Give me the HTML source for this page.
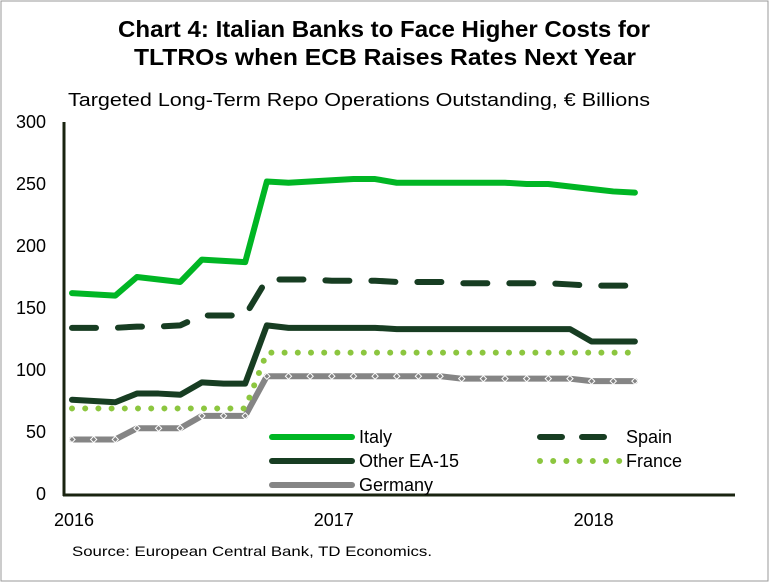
<!DOCTYPE html>
<html><head><meta charset="utf-8"><style>
body{margin:0;background:#fff;font-family:"Liberation Sans",Arial,sans-serif}
svg text{font-family:"Liberation Sans",Arial,sans-serif}
</style></head><body>
<svg id="c" width="769" height="582" xmlns="http://www.w3.org/2000/svg">
<rect x="1" y="1" width="767" height="580" fill="#fff" stroke="#999" stroke-width="1"/>
<text x="118" y="37" font-size="23" font-weight="bold" textLength="532" lengthAdjust="spacingAndGlyphs">Chart 4: Italian Banks to Face Higher Costs for</text>
<text x="134" y="65" font-size="23" font-weight="bold" textLength="502" lengthAdjust="spacingAndGlyphs">TLTROs when ECB Raises Rates Next Year</text>
<text x="68" y="106" font-size="18" textLength="582" lengthAdjust="spacingAndGlyphs">Targeted Long-Term Repo Operations Outstanding, € Billions</text>
<text x="72" y="556" font-size="14" textLength="360" lengthAdjust="spacingAndGlyphs">Source: European Central Bank, TD Economics.</text>
<g id="axes"></g><g id="series"></g><g id="legend"></g>
</svg>
<script>
const yTicks=[0,50,100,150,200,250,300];
const xTickLabels=["2016","2017","2018"];
const xTickIdx=[0,12,24];
const italy=[162,161,160,175,173,171,189,188,187,252,251,252,253,254,254,251,251,251,251,251,251,250,250,248,246,244,243];
const spain=[134,134,134,135,135,136,144,144,144,173,173,173,172,172,172,171,171,171,170,170,170,170,170,169,168,168,168];
const otherEA=[76,75,74,81,81,80,90,89,89,136,134,134,134,134,134,133,133,133,133,133,133,133,133,133,123,123,123];
const france=[69,69,69,69,69,69,69,69,69,114,114,114,114,114,114,114,114,114,114,114,114,114,114,114,114,114,114];
const germany=[44,44,44,53,53,53,63,63,63,95,95,95,95,95,95,95,95,95,93,93,93,93,93,93,91,91,91];
const NS="http://www.w3.org/2000/svg";
const X=i=>72+i*21.65;
const Y=v=>494-v*1.24;
function mk(t,a,p){const e=document.createElementNS(NS,t);for(const k in a)e.setAttribute(k,a[k]);p.appendChild(e);return e;}
const ax=document.getElementById('axes');
let yl=mk('line',{x1:64,y1:Y(300),x2:64,y2:496,stroke:'#1a2410','stroke-width':3},ax);


let xl=mk('line',{x1:63,y1:495,x2:735,y2:495,stroke:'#1a2410','stroke-width':3},ax);


yTicks.forEach(v=>{const t=mk('text',{x:46,y:Y(v)+6,'text-anchor':'end','font-size':18},ax);t.textContent=v;

});
xTickLabels.forEach((l,k)=>{const t=mk('text',{x:X(xTickIdx[k])+2,y:526,'text-anchor':'middle','font-size':18},ax);t.textContent=l;

});
const sg=document.getElementById('series');
function pts(a){return a.map((v,i)=>X(i)+','+Y(v)).join(' ');}
const styles={
italy:{stroke:'#00b624',w:6},
spain:{stroke:'#173d22',w:6,dash:'24,22'},
other:{stroke:'#173d22',w:6},
france:{stroke:'#8cc63f',w:6,dash:'0,13.2'},
germany:{stroke:'#858585',w:6}};
function line(a,s,name){const e=mk('polyline',{points:pts(a),fill:'none',stroke:s.stroke,'stroke-width':s.w,'stroke-linecap':'round','stroke-linejoin':'round'},sg);
if(s.dash)e.setAttribute('stroke-dasharray',s.dash);

return e;}
line(germany,styles.germany,'germany-line');
germany.forEach((v,i)=>{const d=mk('rect',{x:X(i)-2.2,y:Y(v)-2.2,width:4.4,height:4.4,fill:'#858585',stroke:'#fff','stroke-width':1,transform:`rotate(45 ${X(i)} ${Y(v)})`},sg);

});
line(france,styles.france,'france-line');
line(otherEA,styles.other,'other-ea15-line');
line(spain,styles.spain,'spain-line');
line(italy,styles.italy,'italy-line');
const lg=document.getElementById('legend');
const entries=[['Italy',styles.italy,272,437],['Spain',styles.spain,540,437],['Other EA-15',styles.other,272,461],['France',styles.france,540,461],['Germany',styles.germany,272,485]];
entries.forEach(([n,s,x,y])=>{const g=mk('g',{},lg);


const l=mk('line',{x1:x,y1:y,x2:x+80,y2:y,stroke:s.stroke,'stroke-width':s.w,'stroke-linecap':'round'},g);
if(s.dash)l.setAttribute('stroke-dasharray',n==='Spain'?'22,20':s.dash);
const t=mk('text',{x:n==='Spain'||n==='France'?x+86:x+87,y:y+6,'font-size':18},g);t.textContent=n;});
</script>
</body></html>
